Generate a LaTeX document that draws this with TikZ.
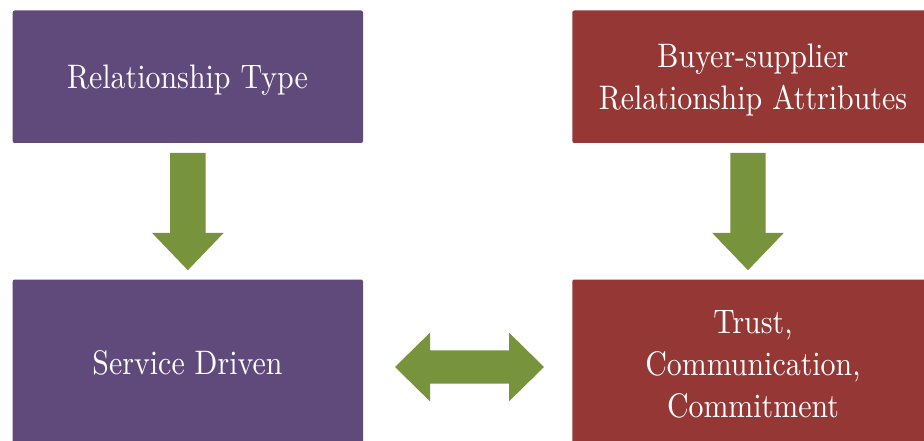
\documentclass[tikz,border=0pt]{standalone}
\usepackage{fontspec}
\newfontfamily\labelfont{lmroman10-regular.otf}[FakeStretch=0.88]
\usetikzlibrary{calc}
\definecolor{boxpurple}{HTML}{604A7B}
\definecolor{boxred}{HTML}{953735}
\definecolor{arrowgreen}{HTML}{77933C}
\begin{document}
\begin{tikzpicture}[x=1pt,y=-1pt,
  card/.style={rounded corners=2pt, inner sep=0pt, minimum width=350.3pt},
  toprow/.style={minimum height=132.5pt},
  botrow/.style={minimum height=163.5pt},
  caption/.style={inner sep=0pt, anchor=base, text=white,
    font=\labelfont\fontsize{34}{42}\selectfont},
  blockarrow/.style={fill=arrowgreen}]
\useasboundingbox (0,0) rectangle (924,441);

% boxes
\node[card, toprow, fill=boxpurple] (rt) at (187.85,76.75) {};
\node[card, botrow, fill=boxpurple] (sd) at (187.85,361.25) {};
\node[card, toprow, fill=boxred, minimum width=353.7pt] (bs) at (749.15,76.75) {};
\node[card, botrow, fill=boxred, minimum width=353.7pt] (tc) at (749.15,361.25) {};

% box texts, one node per line, placed on their baselines
\node[caption] (rt1) at (187.5,89) {Relationship Type};
\node[caption] (sd1) at (187.5,374) {Service Driven};
\node[caption] (bs1) at (753,68) {Buyer-supplier};
\node[caption] (bs2) at (753,110) {Relationship Attributes};
\node[caption] (tc1) at (753,333) {Trust,};
\node[caption] (tc2) at (753,375) {Communication,};
\node[caption] (tc3) at (753,417) {Commitment};

% down arrows
\fill[blockarrow] ($(rt.south)+(-17.65,9.7)$) -- ++(35.3,0) -- ++(0,80)
  -- ++(18.15,0) -- ++(-35.8,37.3) -- ++(-35.8,-37.3) -- ++(18.15,0) -- cycle;
\fill[blockarrow] ($(bs.south)+(-17.65-1.15,9.7)$) -- ++(35.3,0) -- ++(0,80)
  -- ++(18.15,0) -- ++(-35.8,37.3) -- ++(-35.8,-37.3) -- ++(18.15,0) -- cycle;

% two-headed arrow between the lower boxes
\coordinate (mid) at ($($(sd.east)!0.5!(tc.west)$)+(1.85,5.75)$);
\fill[blockarrow] ($(mid)+(-74.5,0)$) -- ++(35,-34.35) -- ++(0,17.7)
  -- ++(79,0) -- ++(0,-17.7) -- ++(35,34.35) -- ++(-35,34.35) -- ++(0,-17.7)
  -- ++(-79,0) -- ++(0,17.7) -- cycle;
\end{tikzpicture}
\end{document}
